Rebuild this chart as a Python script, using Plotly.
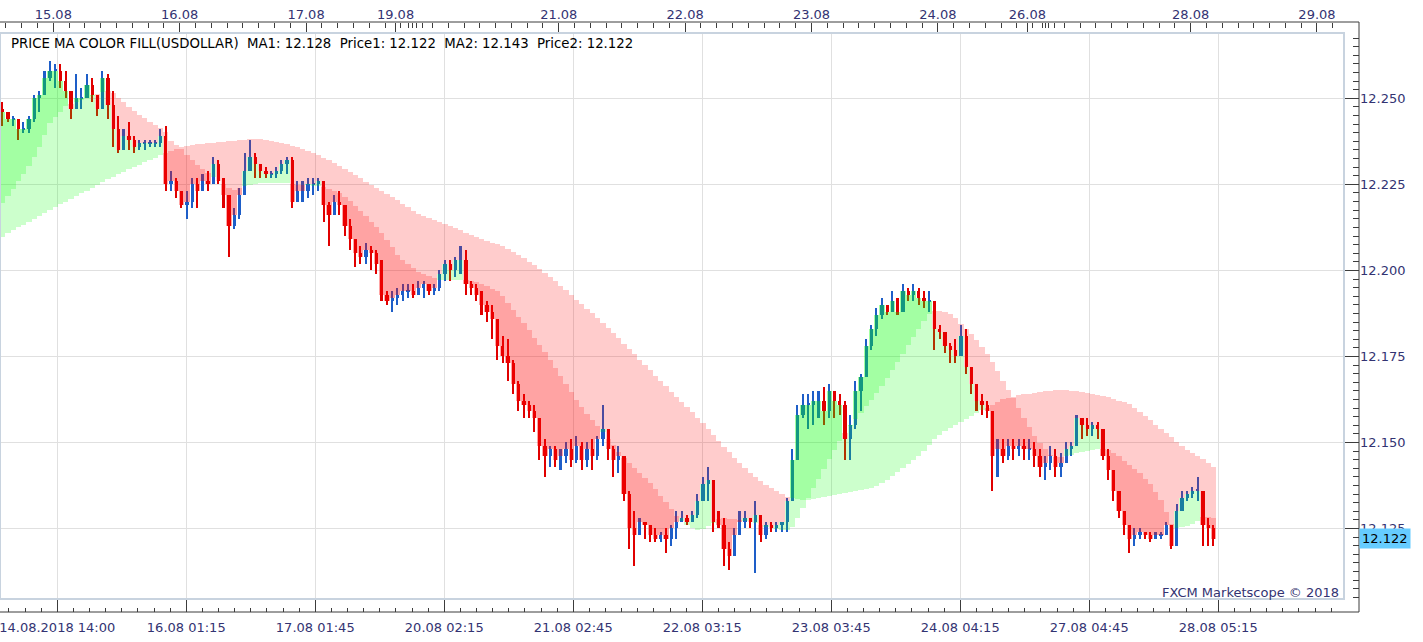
import plotly.graph_objects as go

# ---------------- data (hourly bars, hours since 14.08.2018 14:00, trading time) -------------
first_open = 12.247
closes = [
    12.246, 12.244, 12.244, 12.241, 12.241, 12.244, 12.250, 12.251, 12.256, 12.258,
    12.258, 12.255, 12.252, 12.247, 12.250, 12.250, 12.254, 12.251, 12.247, 12.256,
    12.248, 12.241, 12.235, 12.239, 12.238, 12.236, 12.237, 12.237, 12.237, 12.237,
    12.239, 12.225, 12.226, 12.223, 12.219, 12.220, 12.225, 12.223, 12.226, 12.225,
    12.231, 12.226, 12.222, 12.213, 12.216, 12.222, 12.229, 12.233, 12.231, 12.229,
    12.228, 12.228, 12.229, 12.231, 12.232, 12.220, 12.223, 12.223, 12.225, 12.225,
    12.226, 12.219, 12.216, 12.220, 12.219, 12.213, 12.209, 12.205, 12.204, 12.206,
    12.205, 12.202, 12.193, 12.191, 12.192, 12.193, 12.194, 12.194, 12.193, 12.195,
    12.196, 12.194, 12.195, 12.199, 12.202, 12.200, 12.203, 12.203, 12.196, 12.195,
    12.193, 12.190, 12.188, 12.186, 12.178, 12.175, 12.173, 12.167, 12.162, 12.161,
    12.159, 12.157, 12.149, 12.146, 12.148, 12.145, 12.146, 12.148, 12.145, 12.149,
    12.145, 12.148, 12.146, 12.151, 12.154, 12.148, 12.145, 12.146, 12.135, 12.125,
    12.123, 12.127, 12.126, 12.123, 12.122, 12.123, 12.122, 12.125, 12.127, 12.128,
    12.127, 12.129, 12.133, 12.138, 12.139, 12.127, 12.126, 12.119, 12.117, 12.123,
    12.127, 12.128, 12.127, 12.129, 12.123, 12.126, 12.125, 12.126, 12.127, 12.133,
    12.145, 12.158, 12.161, 12.161, 12.162, 12.162, 12.159, 12.165, 12.162, 12.161,
    12.151, 12.155, 12.165, 12.169, 12.178, 12.183, 12.187, 12.190, 12.188, 12.191,
    12.188, 12.194, 12.193, 12.194, 12.192, 12.191, 12.191, 12.183, 12.182, 12.178,
    12.177, 12.175, 12.181, 12.172, 12.167, 12.162, 12.161, 12.159, 12.146, 12.148,
    12.146, 12.149, 12.148, 12.149, 12.148, 12.148, 12.146, 12.143, 12.144, 12.146,
    12.143, 12.144, 12.148, 12.149, 12.157, 12.155, 12.154, 12.155, 12.154, 12.146,
    12.142, 12.136, 12.130, 12.126, 12.122, 12.123, 12.124, 12.123, 12.122, 12.123,
    12.123, 12.126, 12.120, 12.130, 12.134, 12.135, 12.136, 12.136, 12.126, 12.125,
    12.122,
]
highs = [
    12.249, 12.246, 12.245, 12.244, 12.243, 12.245, 12.251, 12.252, 12.258, 12.261,
    12.260, 12.260, 12.258, 12.250, 12.257, 12.253, 12.257, 12.256, 12.251, 12.258,
    12.257, 12.252, 12.245, 12.241, 12.243, 12.239, 12.238, 12.238, 12.238, 12.238,
    12.241, 12.242, 12.229, 12.227, 12.223, 12.223, 12.227, 12.227, 12.228, 12.229,
    12.233, 12.232, 12.227, 12.221, 12.218, 12.224, 12.234, 12.238, 12.234, 12.231,
    12.230, 12.229, 12.230, 12.232, 12.233, 12.233, 12.226, 12.226, 12.227, 12.227,
    12.227, 12.226, 12.220, 12.222, 12.223, 12.219, 12.215, 12.209, 12.207, 12.208,
    12.207, 12.206, 12.203, 12.194, 12.194, 12.195, 12.196, 12.196, 12.196, 12.197,
    12.197, 12.196, 12.196, 12.200, 12.203, 12.203, 12.204, 12.207, 12.206, 12.197,
    12.196, 12.194, 12.191, 12.190, 12.186, 12.181, 12.180, 12.174, 12.168, 12.164,
    12.162, 12.161, 12.157, 12.151, 12.149, 12.149, 12.148, 12.150, 12.151, 12.152,
    12.150, 12.150, 12.151, 12.152, 12.161, 12.154, 12.149, 12.149, 12.146, 12.136,
    12.130, 12.128, 12.127, 12.125, 12.125, 12.124, 12.125, 12.126, 12.130, 12.130,
    12.129, 12.130, 12.135, 12.140, 12.143, 12.139, 12.130, 12.128, 12.121, 12.125,
    12.130, 12.130, 12.128, 12.133, 12.129, 12.127, 12.127, 12.127, 12.127, 12.134,
    12.148, 12.161, 12.164, 12.164, 12.165, 12.165, 12.166, 12.167, 12.165, 12.164,
    12.162, 12.158, 12.168, 12.170, 12.180, 12.184, 12.189, 12.192, 12.190, 12.194,
    12.192, 12.196, 12.195, 12.196, 12.195, 12.194, 12.194, 12.191, 12.184, 12.181,
    12.179, 12.180, 12.184, 12.183, 12.172, 12.167, 12.164, 12.162, 12.159, 12.151,
    12.151, 12.151, 12.151, 12.151, 12.151, 12.151, 12.150, 12.148, 12.146, 12.149,
    12.148, 12.147, 12.150, 12.150, 12.158, 12.157, 12.157, 12.156, 12.156, 12.154,
    12.148, 12.142, 12.136, 12.130, 12.126, 12.125, 12.125, 12.124, 12.124, 12.124,
    12.124, 12.127, 12.126, 12.132, 12.136, 12.136, 12.137, 12.140, 12.136, 12.128,
    12.126,
]
lows = [
    12.242, 12.243, 12.242, 12.238, 12.240, 12.240, 12.243, 12.246, 12.251, 12.255,
    12.253, 12.253, 12.250, 12.244, 12.247, 12.247, 12.250, 12.249, 12.245, 12.250,
    12.244, 12.236, 12.234, 12.235, 12.235, 12.234, 12.235, 12.235, 12.236, 12.236,
    12.236, 12.223, 12.223, 12.221, 12.218, 12.215, 12.218, 12.218, 12.223, 12.223,
    12.226, 12.225, 12.218, 12.204, 12.212, 12.215, 12.223, 12.229, 12.227, 12.227,
    12.227, 12.227, 12.227, 12.228, 12.228, 12.218, 12.221, 12.220, 12.221, 12.222,
    12.223, 12.214, 12.207, 12.216, 12.216, 12.210, 12.206, 12.201, 12.202, 12.202,
    12.200, 12.199, 12.191, 12.190, 12.188, 12.190, 12.191, 12.192, 12.192, 12.193,
    12.192, 12.193, 12.193, 12.194, 12.197, 12.197, 12.198, 12.199, 12.193, 12.193,
    12.191, 12.187, 12.185, 12.180, 12.174, 12.173, 12.168, 12.164, 12.159, 12.157,
    12.157, 12.153, 12.145, 12.140, 12.143, 12.143, 12.142, 12.144, 12.143, 12.144,
    12.142, 12.143, 12.142, 12.145, 12.149, 12.145, 12.140, 12.141, 12.133, 12.119,
    12.114, 12.125, 12.122, 12.121, 12.121, 12.121, 12.118, 12.120, 12.122, 12.127,
    12.126, 12.127, 12.128, 12.133, 12.133, 12.124, 12.125, 12.114, 12.113, 12.117,
    12.124, 12.125, 12.125, 12.112, 12.121, 12.122, 12.124, 12.124, 12.124, 12.124,
    12.133, 12.145, 12.157, 12.154, 12.155, 12.157, 12.155, 12.157, 12.157, 12.158,
    12.145, 12.145, 12.154, 12.159, 12.172, 12.177, 12.181, 12.186, 12.187, 12.189,
    12.187, 12.189, 12.191, 12.191, 12.190, 12.189, 12.188, 12.177, 12.180, 12.176,
    12.173, 12.173, 12.177, 12.170, 12.164, 12.159, 12.158, 12.157, 12.136, 12.140,
    12.144, 12.145, 12.145, 12.146, 12.145, 12.145, 12.143, 12.140, 12.139, 12.142,
    12.140, 12.140, 12.145, 12.146, 12.151, 12.151, 12.152, 12.152, 12.151, 12.145,
    12.139, 12.133, 12.128, 12.123, 12.118, 12.120, 12.122, 12.122, 12.121, 12.122,
    12.122, 12.123, 12.119, 12.125, 12.132, 12.133, 12.134, 12.133, 12.120, 12.120,
    12.120,
]
ma1 = [
    12.2196, 12.2216, 12.2237, 12.2260, 12.2280, 12.2303, 12.2330, 12.2359, 12.2394, 12.2428,
    12.2446, 12.2460, 12.2478, 12.2484, 12.2489, 12.2495, 12.2501, 12.2507, 12.2513, 12.2519,
    12.2521, 12.2516, 12.2501, 12.2489, 12.2475, 12.2463, 12.2452, 12.2443, 12.2431, 12.2423,
    12.2414, 12.2402, 12.2376, 12.2364, 12.2353, 12.2335, 12.2321, 12.2306, 12.2295, 12.2283,
    12.2271, 12.2260, 12.2251, 12.2239, 12.2234, 12.2239, 12.2245, 12.2248, 12.2251, 12.2254,
    12.2254, 12.2254, 12.2254, 12.2254, 12.2254, 12.2251, 12.2248, 12.2248, 12.2248, 12.2245,
    12.2245, 12.2242, 12.2237, 12.2231, 12.2225, 12.2213, 12.2202, 12.2187, 12.2173, 12.2158,
    12.2141, 12.2126, 12.2109, 12.2088, 12.2068, 12.2045, 12.2030, 12.2019, 12.2007, 12.1995,
    12.1989, 12.1984, 12.1978, 12.1972, 12.1972, 12.1972, 12.1972, 12.1972, 12.1972, 12.1969,
    12.1966, 12.1960, 12.1955, 12.1946, 12.1940, 12.1926, 12.1905, 12.1885, 12.1865, 12.1847,
    12.1827, 12.1803, 12.1783, 12.1763, 12.1740, 12.1716, 12.1693, 12.1670, 12.1646, 12.1623,
    12.1603, 12.1583, 12.1565, 12.1548, 12.1530, 12.1510, 12.1492, 12.1472, 12.1455, 12.1440,
    12.1425, 12.1411, 12.1396, 12.1382, 12.1364, 12.1344, 12.1327, 12.1307, 12.1286, 12.1272,
    12.1260, 12.1251, 12.1245, 12.1248, 12.1257, 12.1266, 12.1277, 12.1280, 12.1277, 12.1277,
    12.1275, 12.1272, 12.1269, 12.1266, 12.1260, 12.1254, 12.1251, 12.1248, 12.1245, 12.1245,
    12.1254, 12.1280, 12.1310, 12.1339, 12.1367, 12.1394, 12.1422, 12.1452, 12.1478, 12.1504,
    12.1527, 12.1548, 12.1568, 12.1585, 12.1606, 12.1623, 12.1644, 12.1664, 12.1687, 12.1710,
    12.1734, 12.1757, 12.1783, 12.1806, 12.1830, 12.1853, 12.1873, 12.1882, 12.1882, 12.1879,
    12.1873, 12.1862, 12.1844, 12.1830, 12.1815, 12.1798, 12.1777, 12.1757, 12.1734, 12.1708,
    12.1678, 12.1652, 12.1629, 12.1600, 12.1571, 12.1545, 12.1519, 12.1498, 12.1481, 12.1463,
    12.1457, 12.1457, 12.1460, 12.1463, 12.1469, 12.1472, 12.1475, 12.1478, 12.1481, 12.1481,
    12.1478, 12.1469, 12.1460, 12.1446, 12.1434, 12.1422, 12.1411, 12.1394, 12.1379, 12.1356,
    12.1333, 12.1298, 12.1263, 12.1251, 12.1254, 12.1257, 12.1263, 12.1272, 12.1283, 12.1283,
    12.1280,
]
ma2 = [
    12.2097, 12.2109, 12.2117, 12.2126, 12.2132, 12.2141, 12.2149, 12.2158, 12.2167, 12.2176,
    12.2184, 12.2193, 12.2199, 12.2207, 12.2216, 12.2225, 12.2231, 12.2239, 12.2248, 12.2257,
    12.2266, 12.2271, 12.2280, 12.2286, 12.2295, 12.2301, 12.2306, 12.2315, 12.2321, 12.2327,
    12.2335, 12.2341, 12.2347, 12.2353, 12.2359, 12.2362, 12.2364, 12.2367, 12.2367, 12.2370,
    12.2370, 12.2373, 12.2373, 12.2376, 12.2376, 12.2379, 12.2379, 12.2382, 12.2382, 12.2382,
    12.2379, 12.2376, 12.2373, 12.2370, 12.2367, 12.2362, 12.2359, 12.2353, 12.2347, 12.2341,
    12.2335, 12.2327, 12.2321, 12.2312, 12.2303, 12.2295, 12.2286, 12.2277, 12.2269, 12.2257,
    12.2248, 12.2239, 12.2231, 12.2222, 12.2213, 12.2205, 12.2193, 12.2184, 12.2173, 12.2164,
    12.2158, 12.2152, 12.2146, 12.2141, 12.2135, 12.2129, 12.2123, 12.2117, 12.2109, 12.2103,
    12.2097, 12.2091, 12.2085, 12.2080, 12.2077, 12.2071, 12.2062, 12.2053, 12.2045, 12.2036,
    12.2024, 12.2016, 12.2004, 12.1992, 12.1981, 12.1969, 12.1955, 12.1943, 12.1928, 12.1914,
    12.1902, 12.1888, 12.1876, 12.1862, 12.1847, 12.1833, 12.1818, 12.1803, 12.1786, 12.1771,
    12.1757, 12.1740, 12.1725, 12.1710, 12.1693, 12.1678, 12.1664, 12.1646, 12.1632, 12.1617,
    12.1603, 12.1588, 12.1571, 12.1556, 12.1539, 12.1521, 12.1504, 12.1487, 12.1472, 12.1455,
    12.1440, 12.1425, 12.1411, 12.1399, 12.1388, 12.1376, 12.1367, 12.1359, 12.1350, 12.1341,
    12.1339, 12.1336, 12.1333, 12.1333, 12.1336, 12.1339, 12.1341, 12.1344, 12.1347, 12.1350,
    12.1353, 12.1356, 12.1359, 12.1362, 12.1364, 12.1367, 12.1373, 12.1382, 12.1391, 12.1402,
    12.1414, 12.1425, 12.1437, 12.1449, 12.1460, 12.1475, 12.1492, 12.1510, 12.1521, 12.1533,
    12.1542, 12.1551, 12.1559, 12.1568, 12.1577, 12.1585, 12.1594, 12.1600, 12.1609, 12.1617,
    12.1626, 12.1629, 12.1632, 12.1638, 12.1641, 12.1641, 12.1644, 12.1646, 12.1649, 12.1649,
    12.1652, 12.1652, 12.1652, 12.1649, 12.1649, 12.1646, 12.1644, 12.1641, 12.1638, 12.1635,
    12.1632, 12.1626, 12.1620, 12.1617, 12.1612, 12.1600, 12.1588, 12.1577, 12.1565, 12.1551,
    12.1539, 12.1527, 12.1516, 12.1501, 12.1489, 12.1478, 12.1469, 12.1460, 12.1452, 12.1440,
    12.1428,
]

bottom_tick_vals = [10.875, 35.375, 59.875, 84.375, 108.875, 133.375, 157.875, 182.375, 206.875, 231.375]
bottom_tick_text = ["14.08.2018 14:00", "16.08 01:15", "17.08 01:45", "20.08 02:15", "21.08 02:45",
                    "22.08 03:15", "23.08 03:45", "24.08 04:15", "27.08 04:45", "28.08 05:15"]
day_vals = [10.125, 34.125, 58.125, 75.125, 82.125, 106.125, 130.125, 154.125, 178.125,
            195.125, 202.125, 226.125, 250.125]
day_text = ["15.08", "16.08", "17.08", "19.08", "", "21.08", "22.08", "23.08", "24.08",
            "26.08", "", "28.08", "29.08"]
weekend_extra_ticks = [77.6, 78.4, 80.2, 197.9, 198.6, 200.3]
price_ticks = [12.125, 12.150, 12.175, 12.200, 12.225, 12.250]

# ---------------- geometry / style ----------------
PX_PER_HOUR = 129.0 / 24.5
PLOT_W, PAPER_W = 1344, 1359
XR = [0, PLOT_W / PX_PER_HOUR]
YR = [12.1045, 12.2690]
AX_COL = "#3C3C3C"
LBL_COL = "#333372"
FONT = "DejaVu Sans"

n = len(closes)
xs = [i + 0.5 for i in range(n)]
opens = [first_open] + closes[:-1]
UP, DN = "#1E5EC8", "#E00000"
candle_col = [UP if c >= o else DN for o, c in zip(opens, closes)]
wick_h = [h - l for h, l in zip(highs, lows)]
body_base = [min(o, c) for o, c in zip(opens, closes)]
body_h = [max(abs(c - o), 0.0003) for o, c in zip(opens, closes)]

GREEN = "rgba(0,255,0,0.2)"
RED = "rgba(255,0,0,0.2)"


def fill_parts(ma):
    base = [min(c, m) for c, m in zip(closes, ma)]
    hgt = [abs(c - m) for c, m in zip(closes, ma)]
    col = [GREEN if c >= m else RED for c, m in zip(closes, ma)]
    return base, hgt, col


fig = go.Figure()
fig.add_trace(go.Bar(x=xs, y=wick_h, base=lows, width=0.3, marker=dict(color=candle_col, line=dict(width=0)),
                     xaxis="x", yaxis="y", hoverinfo="skip"))
fig.add_trace(go.Bar(x=xs, y=body_h, base=body_base, width=0.62, marker=dict(color=candle_col, line=dict(width=0)),
                     xaxis="x", yaxis="y", hoverinfo="skip"))
fig.add_trace(go.Scatter(x=day_vals, y=[12.2708] * len(day_vals), mode="markers", cliponaxis=False,
                         marker=dict(symbol="triangle-down", size=10, color="#F5A41E", line=dict(width=0)),
                         xaxis="x2", yaxis="y", hoverinfo="skip"))
for ma in (ma2, ma1):
    b, h, c = fill_parts(ma)
    fig.add_trace(go.Bar(x=xs, y=h, base=b, width=1.0, marker=dict(color=c, line=dict(width=0)),
                         xaxis="x3", yaxis="y3", hoverinfo="skip"))

top_minor = sorted(set([round(1.125 + 3 * k, 3) for k in range(86)] + weekend_extra_ticks))

fig.update_layout(
    width=1423, height=642,
    margin=dict(l=0, r=1423 - PAPER_W, t=22, b=30, pad=0),
    paper_bgcolor="white", plot_bgcolor="white",
    barmode="overlay", bargap=0, showlegend=False,
    font=dict(family=FONT, size=13, color=LBL_COL),
    xaxis=dict(domain=[0, PLOT_W / PAPER_W], range=XR, anchor="free", position=0, side="bottom",
               tickmode="array", tickvals=bottom_tick_vals, ticktext=bottom_tick_text, tickangle=0,
               ticks="inside", ticklen=13, tickwidth=1, tickcolor=AX_COL, ticklabelstandoff=6,
               ticklabeloverflow="allow",
               minor=dict(tick0=10.875, dtick=3.0625, ticks="inside", ticklen=4, tickwidth=1,
                          tickcolor=AX_COL, showgrid=False),
               showgrid=True, gridcolor="#E0E0E0", gridwidth=1, zeroline=False, showline=False,
               tickfont=dict(family=FONT, size=13, color=LBL_COL)),
    yaxis=dict(domain=[13 / 590, 579 / 590], range=YR, anchor="free", position=1, side="right",
               tickmode="array", tickvals=price_ticks, ticktext=[f"{v:.3f}" for v in price_ticks],
               ticks="inside", ticklen=16, tickwidth=1, tickcolor=AX_COL,
               minor=dict(tick0=12.125, dtick=0.0025, ticks="inside", ticklen=6, tickwidth=1,
                          tickcolor=AX_COL, showgrid=False),
               showgrid=True, gridcolor="#E0E0E0", gridwidth=1, zeroline=False, showline=False,
               tickfont=dict(family=FONT, size=13, color=LBL_COL)),
    xaxis2=dict(overlaying="x", range=XR, anchor="free", position=1, side="top",
                tickmode="array", tickvals=day_vals, ticktext=day_text, tickangle=0,
                ticks="inside", ticklen=11, tickwidth=1, tickcolor=AX_COL,
                minor=dict(tickmode="array", tickvals=top_minor, ticks="inside", ticklen=5,
                           tickwidth=1, tickcolor=AX_COL, showgrid=False),
                showgrid=False, zeroline=False, showline=False,
                tickfont=dict(family=FONT, size=13, color=LBL_COL)),
    xaxis3=dict(overlaying="x", range=XR, anchor="y3", visible=False),
    yaxis3=dict(overlaying="y", range=YR, anchor="x3", visible=False),
)

# plot border and outer axis frame
fig.add_shape(type="rect", xref="x domain", yref="y domain", x0=0, x1=1, y0=0, y1=1,
              line=dict(color="#C8D3DF", width=2), fillcolor="rgba(0,0,0,0)", layer="above")
for x0, y0, x1, y1 in [(0, 1, 1, 1), (1, 0, 1, 1), (0, 0, 1, 0)]:
    fig.add_shape(type="line", xref="paper", yref="paper", x0=x0, y0=y0, x1=x1, y1=y1,
                  line=dict(color=AX_COL, width=1))

legend_text = ("PRICE MA COLOR FILL(USDOLLAR)\u00a0\u00a0MA1: {:.3f}\u00a0\u00a0Price1: {:.3f}"
               "\u00a0\u00a0MA2: {:.3f}\u00a0\u00a0Price2: {:.3f}").format(ma1[-1], closes[-1], ma2[-1], closes[-1])
fig.add_annotation(xref="paper", yref="paper", x=9 / PAPER_W, y=(612 - 43) / 590, text=legend_text,
                   showarrow=False, xanchor="left", yanchor="middle",
                   font=dict(family=FONT, size=13.3, color="black"))
fig.add_annotation(xref="paper", yref="paper", x=1341 / PAPER_W, y=(612 - 592) / 590,
                   text="FXCM Marketscope © 2018", showarrow=False, xanchor="right", yanchor="middle",
                   font=dict(family=FONT, size=13, color=LBL_COL))
fig.add_annotation(xref="paper", yref="y", x=1, y=closes[-1], text=f"{closes[-1]:.3f}",
                   showarrow=False, xanchor="left", yanchor="middle", bgcolor="#66CCFF", borderpad=2,
                   font=dict(family=FONT, size=13, color="black"))

fig.write_html("out.html")
